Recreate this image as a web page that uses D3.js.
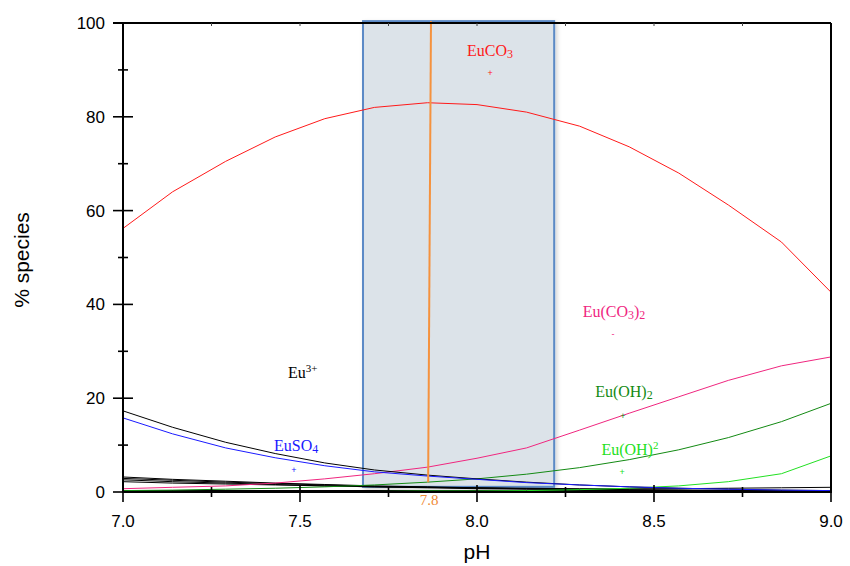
<!DOCTYPE html>
<html><head><meta charset="utf-8">
<script src="https://cdn.jsdelivr.net/npm/d3@7"></script>
<style>body{margin:0;background:#fff}svg{display:block}</style>
</head><body><svg id="c" width="850" height="566"></svg>
<script>
const pH = [7.0, 7.14, 7.29, 7.43, 7.57, 7.71, 7.86, 8.0, 8.14, 8.29, 8.43, 8.57, 8.71, 8.86, 9.0];
const EuCO3   = [56.2, 64.0, 70.5, 75.7, 79.6, 82.0, 83.0, 82.6, 81.0, 78.0, 73.6, 68.0, 61.2, 53.3, 42.6];
const EuCO3_2 = [0.7, 1.0, 1.3, 1.9, 2.8, 3.9, 5.3, 7.2, 9.4, 13.2, 16.8, 20.3, 23.8, 26.9, 28.8];
const EuOH2   = [0.3, 0.4, 0.6, 0.8, 1.1, 1.5, 2.1, 2.8, 3.8, 5.2, 6.9, 9.0, 11.6, 15.0, 18.9];
const EuOH2b  = [0.1, 0.1, 0.1, 0.1, 0.1, 0.1, 0.2, 0.2, 0.3, 0.5, 0.8, 1.3, 2.2, 3.9, 7.7];
const EuSO4   = [15.8, 12.4, 9.4, 7.3, 5.6, 4.3, 3.4, 2.7, 2.0, 1.5, 1.1, 0.8, 0.6, 0.4, 0.3];
const Eu3     = [17.3, 13.8, 10.6, 8.2, 6.2, 4.7, 3.6, 2.8, 2.1, 1.5, 1.1, 0.8, 0.6, 0.4, 0.3];
const minorA  = [3.2, 2.7, 2.3, 1.9, 1.6, 1.3, 1.1, 0.9, 0.7, 0.6, 0.5, 0.4, 0.3, 0.3, 0.2];
const minorB  = [2.9, 2.5, 2.1, 1.8, 1.5, 1.2, 1.0, 0.8, 0.7, 0.5, 0.4, 0.4, 0.3, 0.2, 0.2];
const minorC  = [2.6, 2.2, 1.9, 1.6, 1.3, 1.1, 0.9, 0.7, 0.6, 0.5, 0.4, 0.3, 0.3, 0.2, 0.1];
const minorD  = [2.2, 1.9, 1.7, 1.5, 1.3, 1.1, 1.0, 0.9, 0.8, 0.7, 0.7, 0.7, 0.8, 0.9, 1.0];
const minorE  = [0.2, 0.2, 0.2, 0.2, 0.2, 0.2, 0.2, 0.2, 0.2, 0.2, 0.2, 0.2, 0.2, 0.2, 0.2];
const xTicks = [7.0, 7.5, 8.0, 8.5, 9.0];
const xMinor = [7.25, 7.75, 8.25, 8.75];
const yTicks = [0, 20, 40, 60, 80, 100];
const yMinor = [10, 30, 50, 70, 90];
const rangeBox = [7.678, 8.218];
const markLine = [7.87, 7.862];
const markLabel = "7.8";

const svg = d3.select("#c");
const x = d3.scaleLinear().domain([7, 9]).range([123, 831]);
const y = d3.scaleLinear().domain([0, 100]).range([492, 23]);

const defs = svg.append("defs");
const f = defs.append("filter").attr("id","sh").attr("x","-10%").attr("y","-10%").attr("width","130%").attr("height","130%");
f.append("feDropShadow").attr("dx",2).attr("dy",2).attr("stdDeviation",2).attr("flood-color","#000").attr("flood-opacity",0.18);

svg.append("rect")
  .attr("x", x(rangeBox[0])).attr("y", y(100.4))
  .attr("width", x(rangeBox[1]) - x(rangeBox[0]))
  .attr("height", y(1.1) - y(100.4))
  .attr("fill", "#dce3e9").attr("stroke", "#5b8ac6").attr("stroke-width", 2)
  .attr("filter","url(#sh)");

const line = d3.line().x((d,i)=>x(pH[i])).y(d=>y(d));
const series = [
  [minorE, "#000", 2.2],
  [minorA, "#000", 1], [minorB, "#000", 1], [minorC, "#000", 1], [minorD, "#000", 1],
  [EuOH2b, "#22e022", 1], [EuOH2, "#138a13", 1],
  [EuCO3_2, "#f0267f", 1], [Eu3, "#000", 1], [EuSO4, "#1a1aff", 1], [EuCO3, "#ff1a1a", 1]
];
series.forEach(([d,c,w]) => {
  svg.append("path").attr("d", line(d)).attr("fill","none").attr("stroke",c).attr("stroke-width",w);
});

svg.append("line").attr("x1", x(markLine[0])).attr("y1", y(100.4))
  .attr("x2", x(markLine[1])).attr("y2", y(2.1))
  .attr("stroke", "#f5923e").attr("stroke-width", 2);
svg.append("text").attr("x", x(markLine[1]) + 1).attr("y", 505)
  .attr("text-anchor","middle").attr("font-family","Liberation Serif").attr("font-size",15)
  .attr("fill","#f08a35").text(markLabel);

const ax = svg.append("g").attr("stroke","#000");
ax.append("line").attr("x1",123).attr("x2",831).attr("y1",y(0)).attr("y2",y(0)).attr("stroke-width",2);
ax.append("line").attr("x1",123).attr("x2",123).attr("y1",y(0)+1).attr("y2",y(100)).attr("stroke-width",2);
ax.append("line").attr("x1",113).attr("x2",831).attr("y1",y(100)).attr("y2",y(100)).attr("stroke-width",2);
ax.append("line").attr("x1",831).attr("x2",831).attr("y1",y(0)+1).attr("y2",y(100)).attr("stroke-width",2);

yTicks.forEach(t => ax.append("line").attr("x1",113).attr("x2",133).attr("y1",y(t)).attr("y2",y(t)).attr("stroke-width",1.6));
yMinor.forEach(t => ax.append("line").attr("x1",118).attr("x2",128).attr("y1",y(t)).attr("y2",y(t)).attr("stroke-width",1.6));
xTicks.forEach(t => ax.append("line").attr("x1",x(t)).attr("x2",x(t)).attr("y1",y(0)-7).attr("y2",y(0)+10).attr("stroke-width",1.6));
xMinor.forEach(t => ax.append("line").attr("x1",x(t)).attr("x2",x(t)).attr("y1",y(0)-5).attr("y2",y(0)+5).attr("stroke-width",1.6));
xMinor.concat(xTicks.slice(1,4)).forEach(t => ax.append("line").attr("x1",x(t)).attr("x2",x(t)).attr("y1",y(100)).attr("y2",y(100)+3).attr("stroke-width",1).attr("stroke","#444"));

svg.append("g").selectAll("text").data(yTicks).join("text")
  .attr("x",105).attr("y",d=>y(d)+6).attr("text-anchor","end")
  .attr("font-family","Liberation Sans, Arial").attr("font-size",17).text(d=>d);
svg.append("g").selectAll("text").data(xTicks).join("text")
  .attr("x",d=>x(d)).attr("y",527).attr("text-anchor","middle")
  .attr("font-family","Liberation Sans, Arial").attr("font-size",17).text(d=>d.toFixed(1));

svg.append("text").attr("x",477).attr("y",559).attr("text-anchor","middle")
  .attr("font-family","Liberation Sans, Arial").attr("font-size",21).text("pH");
svg.append("text").attr("transform","translate(29,260) rotate(-90)").attr("text-anchor","middle")
  .attr("font-family","Liberation Sans, Arial").attr("font-size",21).text("% species");

const labelNames = [["Eu","CO","3sub"], ["Eu(CO","3sub",")","2sub"], ["Eu","3+sup"], ["EuSO","4sub"], ["Eu(OH)","2sub"], ["Eu(OH)","2sup"]];
const labelPH  = [8.037, 8.387, 7.508, 7.489, 8.415, 8.432];
const labelVal = [93.0, 37.3, 24.3, 8.7, 20.3, 7.9];
const labelColors = ["#ff1a1a", "#f0267f", "#000", "#1a1aff", "#138a13", "#22e022"];
const markPH  = [8.037, 8.384, null, 7.483, 8.412, 8.41];
const markVal = [89.3, 33.7, null, 4.7, 16.2, 4.3];
const markSym = ["+", "-", null, "+", "+", "+"];

labelNames.forEach((parts,i) => {
  const t = svg.append("text").attr("x", x(labelPH[i])).attr("y", y(labelVal[i]))
    .attr("text-anchor","middle").attr("font-family","Liberation Serif, Times New Roman")
    .attr("font-size",16).attr("fill",labelColors[i]);
  let shift = 0;
  parts.forEach(p => {
    let txt = p, dy = 0, fs = 16;
    if (p.endsWith("sub")) { txt = p.slice(0,-3); dy = 2; fs = 12; }
    else if (p.endsWith("sup")) { txt = p.slice(0,-3); dy = -6; fs = 11; }
    t.append("tspan").attr("font-size",fs).attr("dy", dy - shift).text(txt);
    shift = dy;
  });
  if (markSym[i]) {
    svg.append("text").attr("x", x(markPH[i])).attr("y", y(markVal[i]) + 3)
      .attr("text-anchor","middle").attr("font-family","Liberation Sans").attr("font-size",9)
      .attr("fill",labelColors[i]).text(markSym[i]);
  }
});
</script></body></html>
